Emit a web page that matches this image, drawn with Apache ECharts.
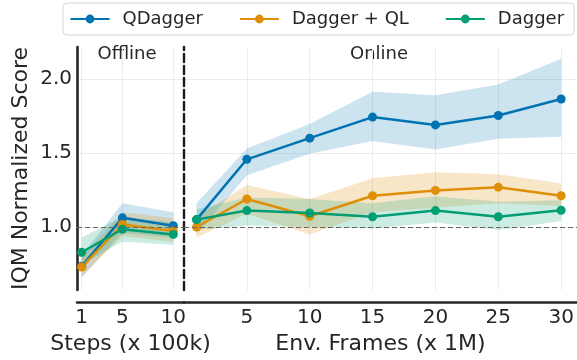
<!DOCTYPE html>
<html><head><meta charset="utf-8">
<script src="https://cdn.jsdelivr.net/npm/echarts@6/dist/echarts.min.js"></script>
<style>html,body{margin:0;padding:0;background:#fff}#c{width:577px;height:360px}</style>
</head><body><div id="c"></div>
<script>
// ---- data ----
const offlineSteps = [1, 5, 10];
const onlineFrames = [1, 5, 10, 15, 20, 25, 30];
const offlineTicks = [1, 5, 10];
const onlineTicks = [5, 10, 15, 20, 25, 30];
const yTicks = [1.0, 1.5, 2.0];

const qdaggerOffline     = [0.735, 1.062, 1.009];
const qdaggerOfflineLow  = [0.66, 0.96, 0.93];
const qdaggerOfflineHigh = [0.81, 1.16, 1.10];
const daggerQLOffline     = [0.73, 1.017, 0.973];
const daggerQLOfflineLow  = [0.67, 0.94, 0.90];
const daggerQLOfflineHigh = [0.80, 1.10, 1.06];
const daggerOffline     = [0.83, 0.985, 0.95];
const daggerOfflineLow  = [0.75, 0.90, 0.88];
const daggerOfflineHigh = [0.93, 1.07, 1.03];

const qdaggerOnline     = [1.05, 1.457, 1.60, 1.742, 1.689, 1.753, 1.864];
const qdaggerOnlineLow  = [0.95, 1.35, 1.495, 1.58, 1.524, 1.595, 1.61];
const qdaggerOnlineHigh = [1.16, 1.53, 1.695, 1.913, 1.89, 1.962, 2.135];
const daggerQLOnline     = [1.0, 1.189, 1.073, 1.211, 1.247, 1.269, 1.211];
const daggerQLOnlineLow  = [0.93, 1.09, 0.95, 1.10, 1.13, 1.16, 1.14];
const daggerQLOnlineHigh = [1.07, 1.284, 1.19, 1.33, 1.37, 1.357, 1.295];
const daggerOnline     = [1.05, 1.111, 1.095, 1.069, 1.111, 1.069, 1.113];
const daggerOnlineLow  = [0.98, 1.01, 1.0, 0.99, 1.03, 0.98, 1.04];
const daggerOnlineHigh = [1.12, 1.20, 1.19, 1.16, 1.207, 1.17, 1.18];

const names = ['QDagger', 'Dagger + QL', 'Dagger'];
const colors = ['#0173b2', '#de8f05', '#029e73'];
const bandColors = ['rgba(1,115,178,0.2)', 'rgba(222,143,5,0.22)', 'rgba(2,158,115,0.2)'];

const panels = [
  {xs: offlineSteps, mean: [qdaggerOffline, daggerQLOffline, daggerOffline],
   low: [qdaggerOfflineLow, daggerQLOfflineLow, daggerOfflineLow],
   high: [qdaggerOfflineHigh, daggerQLOfflineHigh, daggerOfflineHigh]},
  {xs: onlineFrames, mean: [qdaggerOnline, daggerQLOnline, daggerOnline],
   low: [qdaggerOnlineLow, daggerQLOnlineLow, daggerOnlineLow],
   high: [qdaggerOnlineHigh, daggerQLOnlineHigh, daggerOnlineHigh]}
];

const series = [];
panels.forEach((p, gi) => {
  for (let k = 0; k < 3; k++) {
    // band polygon: upper edge forward, lower edge backward
    const pts = p.xs.map((x, i) => [x, p.high[k][i]])
      .concat(p.xs.map((x, i) => [x, p.low[k][i]]).reverse());
    series.push({
      type: 'custom', name: 'band' + gi + k, xAxisIndex: gi, yAxisIndex: gi,
      silent: true, z: 1, clip: true,
      data: [[p.xs[0], p.low[k][0]]],
      renderItem: (params, api) => ({
        type: 'polygon',
        shape: {points: pts.map(q => api.coord(q))},
        style: {fill: bandColors[k]}
      })
    });
  }
  for (let k = 0; k < 3; k++) {
    const s = {
      type: 'line', name: names[k], xAxisIndex: gi, yAxisIndex: gi,
      symbol: 'circle', symbolSize: 9, showSymbol: true, z: 3,
      itemStyle: {color: colors[k]}, lineStyle: {color: colors[k], width: 2.5},
      data: p.xs.map((x, i) => [x, p.mean[k][i]])
    };
    if (k === 0) {
      s.markLine = {silent: true, symbol: 'none', label: {show: false},
        lineStyle: {color: '#666', type: [5, 3], width: 1.2}, data: [{yAxis: 1.0}]};
    }
    series.push(s);
  }
});

const tickFont = {fontFamily: 'DejaVu Sans', fontSize: 20, color: '#262626'};
const nameFont = {fontFamily: 'DejaVu Sans', fontSize: 22, color: '#262626'};
const gridLine = {show: true, lineStyle: {color: '#ebebeb', width: 1}};

const option = {
  animation: false,
  backgroundColor: '#fff',
  textStyle: {fontFamily: 'DejaVu Sans'},
  legend: {
    data: names, left: 63, top: 3, width: 520, orient: 'horizontal',
    padding: [7, 10, 7, 6.5], itemGap: 36, itemWidth: 39, itemHeight: 11,
    borderColor: '#d6d6d6', borderWidth: 1, borderRadius: 4,
    textStyle: {fontFamily: 'DejaVu Sans', fontSize: 18, color: '#262626', padding: [0, 0, 0, 8]}
  },
  grid: [
    {left: 77, width: 107, top: 47, bottom: 67, containLabel: false},
    {left: 184, right: 0, top: 47, bottom: 67, containLabel: false}
  ],
  xAxis: [
    {gridIndex: 0, type: 'value', min: 0.54, max: 11.05, offset: 12,
     name: 'Steps (x 100k)', nameLocation: 'middle', nameGap: 31, nameTextStyle: nameFont,
     axisLine: {show: true, lineStyle: {color: '#262626', width: 2.6}},
     axisTick: {show: false, customValues: offlineTicks},
     axisLabel: Object.assign({customValues: offlineTicks, margin: 6}, tickFont),
     splitLine: gridLine},
    {gridIndex: 1, type: 'value', min: 0, max: 31.26, offset: 12,
     name: 'Env. Frames (x 1M)', nameLocation: 'middle', nameGap: 31, nameTextStyle: nameFont,
     axisLine: {show: true, lineStyle: {color: '#262626', width: 2.6}},
     axisTick: {show: false, customValues: onlineTicks},
     axisLabel: Object.assign({customValues: onlineTicks, margin: 6}, tickFont),
     splitLine: gridLine}
  ],
  yAxis: [
    {gridIndex: 0, type: 'value', min: 0.575, max: 2.215,
     name: 'IQM Normalized Score', nameLocation: 'middle', nameGap: 45, nameTextStyle: nameFont,
     axisLine: {show: true, lineStyle: {color: '#262626', width: 2.6}},
     axisTick: {show: false, customValues: yTicks},
     axisLabel: Object.assign({customValues: yTicks, margin: 5,
       formatter: v => v.toFixed(1)}, tickFont),
     splitLine: gridLine},
    {gridIndex: 1, type: 'value', min: 0.575, max: 2.215,
     axisLine: {show: true, lineStyle: {color: '#1a1a1a', width: 2.4, type: [8, 4]}},
     axisTick: {show: false, customValues: yTicks},
     axisLabel: {show: false, customValues: yTicks},
     splitLine: gridLine}
  ],
  graphic: [
    {type: 'text', x: 127, y: 54, style: {text: 'Offline', fontFamily: 'DejaVu Sans', fontSize: 18, fill: '#262626', align: 'center', verticalAlign: 'middle'}},
    {type: 'text', x: 379, y: 54, style: {text: 'Online', fontFamily: 'DejaVu Sans', fontSize: 18, fill: '#262626', align: 'center', verticalAlign: 'middle'}}
  ],
  series: series
};
const chart = echarts.init(document.getElementById('c'), null, {renderer: 'canvas'});
chart.setOption(option);
</script></body></html>
